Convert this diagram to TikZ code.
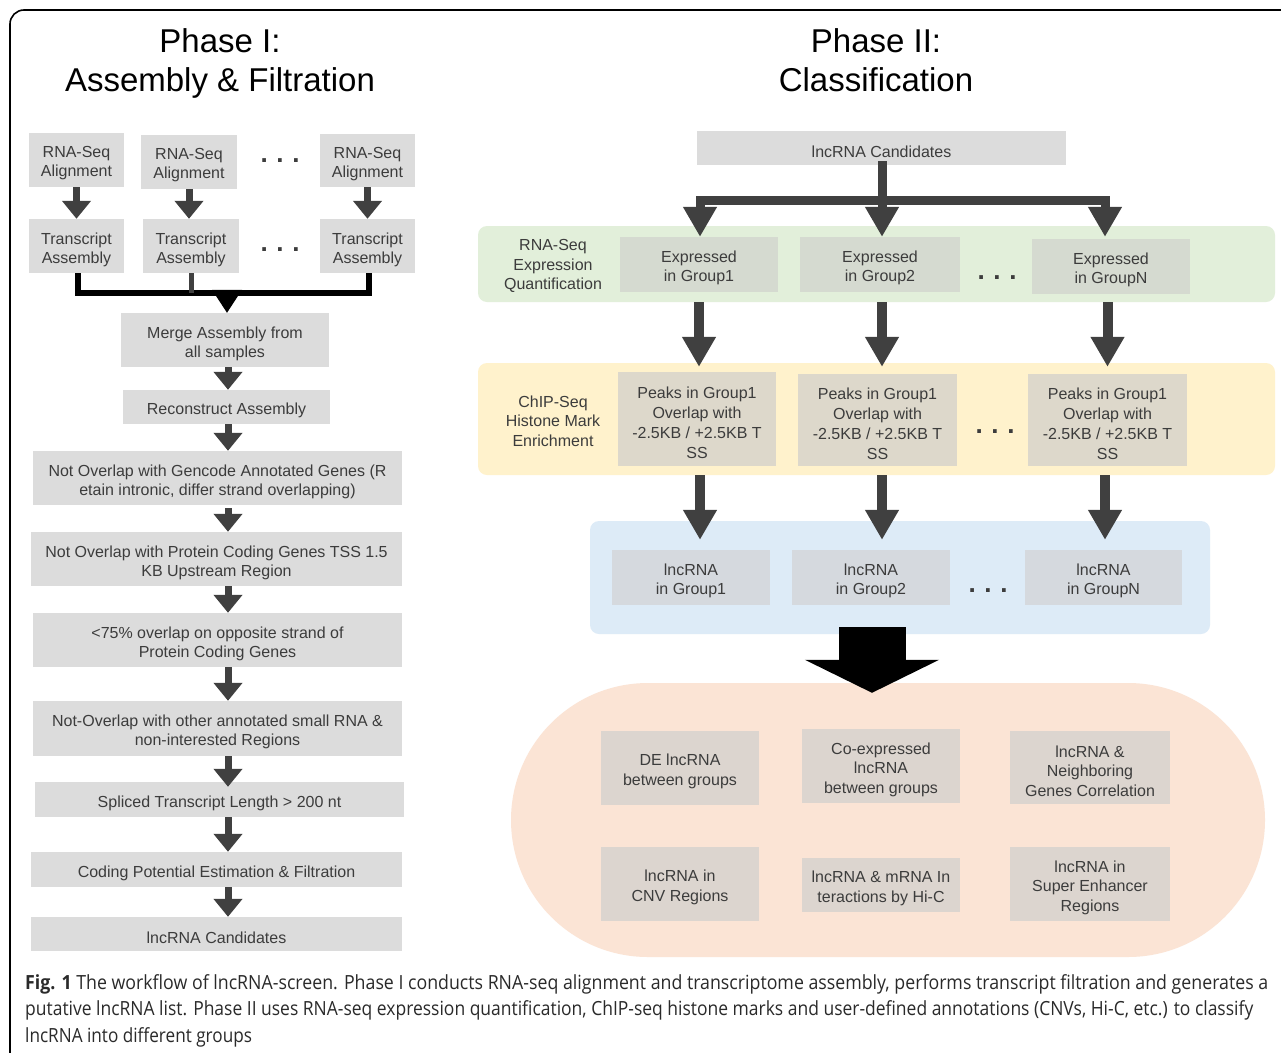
\documentclass[tikz,border=0pt]{standalone}
\usepackage{fontspec}
\setmainfont{Liberation Sans}
\newfontfamily\capfont[FakeStretch=0.88]{Open Sans}
\usepackage{graphicx}
\usetikzlibrary{arrows.meta}
\definecolor{txt}{HTML}{3C3C3C}
\definecolor{captxt}{HTML}{2A2A2A}
\definecolor{boxgray}{HTML}{DCDCDC}
\definecolor{arrc}{HTML}{404040}
\definecolor{greenc}{HTML}{E2EFDA}
\definecolor{yellowc}{HTML}{FFF2CC}
\definecolor{bluec}{HTML}{DDEBF7}
\definecolor{salc}{HTML}{FBE4D5}
\definecolor{gboxc}{HTML}{D5DAD0}
\definecolor{yboxc}{HTML}{DDD8CB}
\definecolor{bboxc}{HTML}{D5D9DE}
\definecolor{sboxc}{HTML}{DCD5CF}
\begin{document}
\begin{tikzpicture}[x=1pt,y=-1pt,
 every node/.style={inner sep=0pt, text=txt, align=center},
 lt/.style={align=center, text=txt, yshift=-3.5pt, font=\fontsize{16}{19}\selectfont},
 lbox/.style={fill=boxgray, label={[lt]center:{#1}}},
 gbox/.style={fill=gboxc, label={[lt]center:{#1}}},
 ybox/.style={fill=yboxc, label={[lt, font=\fontsize{16}{20}\selectfont]center:{#1}}},
 bbox/.style={fill=bboxc, label={[lt]center:{#1}}},
 sbox/.style={fill=sboxc, label={[lt, font=\fontsize{16}{19.5}\selectfont]center:{#1}}},
 wh/.style 2 args={minimum width=#1pt, minimum height=#2pt},
 larr/.style={draw=arrc, line width=7pt, -{Triangle[width=28pt,length=18pt]}},
 rarr/.style={draw=arrc, line width=10pt, -{Triangle[width=32pt,length=30pt]}},
 dotsn/.style={font=\fontsize{26}{26}\selectfont\bfseries, text=txt, anchor=base},
 title/.style={font=\fontsize{33}{33}\selectfont, text=black, anchor=base},
 sidelab/.style={font=\fontsize{16}{19.5}\selectfont},
 brk/.style={draw=black, line width=5.5pt},
 rbar/.style={draw=arrc, line width=9pt, line cap=rect},
]
\useasboundingbox (0,0) rectangle (1281,1052);
\clip (0,0) rectangle (1281,1052);
\fill[white] (0,0) rectangle (1281,1052);
\draw[line width=1.6pt, rounded corners=14pt] (10,10) rectangle (1310,1080);

% titles
\node[title] (t1a) at (220,52) {Phase I:};
\node[title] (t1b) at (220,91) {Assembly \& Filtration};
\node[title] (t2a) at (876,52) {Phase II:};
\node[title] (t2b) at (876,91) {Classification};

% ---------- Phase I ----------
\node[lbox={RNA-Seq\\Alignment}, wh={95}{54}] (ra1) at (76.5,160) {};
\node[lbox={RNA-Seq\\Alignment}, wh={96}{54}] (ra2) at (189,162) {};
\node[lbox={RNA-Seq\\Alignment}, wh={95}{53}] (ra3) at (367.5,160.5) {};
\node[dotsn] (d1) at (280,162) {.\,\,.\,\,.};
\node[lbox={Transcript\\Assembly}, wh={95}{54}] (ta1) at (76.5,246) {};
\node[lbox={Transcript\\Assembly}, wh={96}{54}] (ta2) at (191,246) {};
\node[lbox={Transcript\\Assembly}, wh={95}{54}] (ta3) at (367.5,246) {};
\node[dotsn] (d2) at (280,251) {.\,\,.\,\,.};

\draw[larr] (ra1.south) -- (ra1.south |- ta1.north);
\draw[larr] (ra2.south) -- (ra2.south |- ta2.north);
\draw[larr] (ra3.south) -- (ra3.south |- ta3.north);

\node[lbox={Merge Assembly from\\all samples}, wh={208}{54}] (merge) at (225,340) {};
\node[lbox={Reconstruct Assembly}, wh={207}{34}] (recon) at (226.5,407) {};
\node[lbox={Not Overlap with Gencode Annotated Genes (R\\etain intronic, differ strand overlapping)}, wh={369}{54}] (genc) at (217.5,478) {};
\node[lbox={Not Overlap with Protein Coding Genes TSS 1.5\\KB Upstream Region}, wh={371}{54}] (prot) at (216.5,559) {};
\node[lbox={<75\% overlap on opposite strand of\\Protein Coding Genes}, wh={369}{54}] (p75) at (217.5,640) {};
\node[lbox={Not-Overlap with other annotated small RNA \&\\non-interested Regions}, wh={369}{55}] (srna) at (217.5,728.5) {};
\node[lbox={Spliced Transcript Length > 200 nt}, wh={369}{35}] (splc) at (219.5,799.5) {};
\node[lbox={Coding Potential Estimation \& Filtration}, wh={371}{35}] (codp) at (216.5,869.5) {};
\node[lbox={lncRNA Candidates}, wh={371}{34}] (cand) at (216.5,934) {};

% bracket
\coordinate (bl) at (78,293);
\draw[brk] (ta1.south -| bl) -- (bl) -| ([xshift=1.5pt]ta3.south);
\draw[draw=arrc, line width=5pt] (ta2.south) -- (ta2.south |- bl);
\fill[black] ([xshift=-13pt,yshift=23pt]merge.north) -- ([xshift=17pt,yshift=23pt]merge.north) -- ([xshift=2pt]merge.north) -- cycle;

\coordinate (ax) at (228,0);
\draw[larr] (merge.south -| ax) -- (recon.north -| ax);
\draw[larr] (recon.south -| ax) -- (genc.north -| ax);
\draw[larr] ([yshift=-3pt]genc.south -| ax) -- (prot.north -| ax);
\draw[larr] (prot.south -| ax) -- (p75.north -| ax);
\draw[larr] (p75.south -| ax) -- (srna.north -| ax);
\draw[larr] (srna.south -| ax) -- ([yshift=-5pt]splc.north -| ax);
\draw[larr] (splc.south -| ax) -- (codp.north -| ax);
\draw[larr] (codp.south -| ax) -- (cand.north -| ax);

% ---------- Phase II ----------
\node[fill=greenc, rounded corners=9pt, wh={797}{76}] (gband) at (876.5,264) {};
\node[fill=yellowc, rounded corners=9pt, wh={797}{112}] (yband) at (876.5,419) {};
\node[fill=bluec, rounded corners=9pt, wh={620}{113}] (bband) at (900,577.5) {};
\node[fill=salc, rounded corners=137pt, wh={754}{274}] (sband) at (888,820) {};

\node[lbox={lncRNA Candidates}, wh={369}{34}] (rcand) at (881.5,148) {};

\node[sidelab] (lab1) at (553,266) {RNA-Seq\\Expression\\Quantification};
\node[gbox={Expressed\\in Group1}, wh={158}{55}] (exp1) at (699,264.5) {};
\node[gbox={Expressed\\in Group2}, wh={160}{55}] (exp2) at (880,264.5) {};
\node[gbox={Expressed\\in GroupN}, wh={158}{55}] (expN) at (1111,266.5) {};
\node[dotsn] (d3) at (997,279) {.\,\,.\,\,.};

\node[sidelab] (lab2) at (553,421) {ChIP-Seq\\Histone Mark\\Enrichment};
\node[ybox={Peaks in Group1\\Overlap with\\-2.5KB / +2.5KB T\\SS}, wh={158}{94}] (pk1) at (697,419) {};
\node[ybox={Peaks in Group1\\Overlap with\\-2.5KB / +2.5KB T\\SS}, wh={159}{92}] (pk2) at (877.5,420) {};
\node[ybox={Peaks in Group1\\Overlap with\\-2.5KB / +2.5KB T\\SS}, wh={159}{92}] (pkN) at (1107.5,420) {};
\node[dotsn] (d4) at (995,433) {.\,\,.\,\,.};

\node[bbox={lncRNA\\in Group1}, wh={158}{55}] (lg1) at (691,577.5) {};
\node[bbox={lncRNA\\in Group2}, wh={158}{55}] (lg2) at (871,577.5) {};
\node[bbox={lncRNA\\in GroupN}, wh={157}{55}] (lgN) at (1103.5,577.5) {};
\node[dotsn] (d5) at (988,592) {.\,\,.\,\,.};

\node[sbox={DE lncRNA\\between groups}, wh={158}{74}] (r1) at (680,768) {};
\node[sbox={Co-expressed\\lncRNA\\between groups}, wh={158}{74}] (r2) at (881,766) {};
\node[sbox={lncRNA \&\\Neighboring\\Genes Correlation}, wh={160}{73}] (r3) at (1090,767.5) {};
\node[sbox={lncRNA in\\CNV Regions}, wh={158}{74}] (r4) at (680,884) {};
\node[sbox={lncRNA \& mRNA In\\teractions by Hi-C}, wh={158}{54}] (r5) at (881,885) {};
\node[sbox={lncRNA in\\Super Enhancer\\Regions}, wh={160}{74}] (r6) at (1090,884) {};

% branch from candidates
\coordinate (c1) at (700,200);
\coordinate (c2) at (882,200);
\coordinate (c3) at (1105,200);
\draw[rbar] (rcand.south -| c2) -- (c2);
\draw[rbar] (c1) -- (c3);
\draw[draw=arrc, line width=9pt, -{Triangle[width=32pt,length=30pt]}] (c1) -- (c1 |- exp1.north);
\draw[draw=arrc, line width=9pt, -{Triangle[width=32pt,length=30pt]}] (c2) -- (c2 |- exp2.north);
\draw[draw=arrc, line width=9pt, -{Triangle[width=32pt,length=30pt]}] (c3) -- ([yshift=2pt]c3 |- expN.north);

% green -> yellow
\draw[rarr] (gband.south -| exp1) -- ([yshift=5pt]pk1.north -| exp1);
\draw[rarr] (gband.south -| c2) -- ([yshift=7pt]pk2.north -| c2);
\draw[rarr] (gband.south -| pkN) -- ([yshift=7pt]pkN.north);
% yellow -> blue
\draw[rarr] (yband.south -| c1) -- ([yshift=10pt]lg1.north -| c1);
\draw[rarr] (yband.south -| c2) -- ([yshift=10pt]lg2.north -| c2);
\draw[rarr] (yband.south -| c3) -- ([yshift=10pt]lgN.north -| c3);

% big arrow
\coordinate (bigx) at (872,0);
\draw[draw=black, line width=67pt, -{Triangle[width=133pt,length=33pt]}] ([yshift=7pt]bband.south -| bigx) -- ([yshift=-10pt]sband.north -| bigx);

% caption
\node[anchor=base west, text=captxt] (cap1) at (25,989) {\resizebox{1243pt}{\height}{\capfont\fontsize{19.5}{24}\selectfont\textbf{Fig. 1} The workflow of lncRNA-screen. Phase I conducts RNA-seq alignment and transcriptome assembly, performs transcript filtration and generates a}};
\node[anchor=base west, text=captxt] (cap2) at (25,1015) {\resizebox{1228pt}{\height}{\capfont\fontsize{19.5}{24}\selectfont putative lncRNA list. Phase II uses RNA-seq expression quantification, ChIP-seq histone marks and user-defined annotations (CNVs, Hi-C, etc.) to classify}};
\node[anchor=base west, text=captxt] (cap3) at (25,1042) {\capfont\fontsize{19.5}{24}\selectfont lncRNA into different groups};
\end{tikzpicture}
\end{document}
